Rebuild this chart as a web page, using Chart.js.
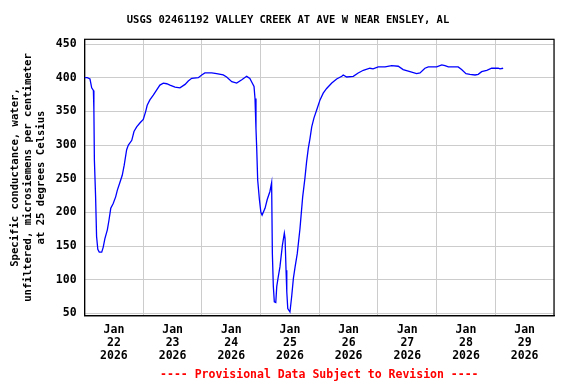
<!DOCTYPE html>
<html>
<head>
<meta charset="utf-8">
<script src="https://cdn.jsdelivr.net/npm/chart.js@4/dist/chart.umd.min.js"></script>
<style>
  html, body { margin: 0; padding: 0; background: #fff; }
</style>
</head>
<body>
<canvas id="myChart" width="576" height="384"></canvas>
<script>
const title = 'USGS 02461192 VALLEY CREEK AT AVE W NEAR ENSLEY, AL';
const yTitle = ['Specific conductance, water,', 'unfiltered, microsiemens per centimeter', 'at 25 degrees Celsius'];
const footer = '---- Provisional Data Subject to Revision ----';
const month = 'Jan';
const year = '2026';
const dayLabels = ['22', '23', '24', '25', '26', '27', '28', '29'];

// hours since Jan 22 00:00
const hours = [
  0, 1.1, 2.2, 2.9, 3.6, 3.8, 4.0, 4.5, 4.9, 5.4, 6.0, 7.0, 7.6, 8.3, 9.3, 10.0,
  10.7, 11.7, 12.7, 13.4, 14.5, 15.4, 16.2, 17.2, 17.9, 19.3, 20.2, 21.3, 22.7, 24.0,
  25.0, 25.6, 26.7, 28.1, 29.5, 30.8, 32.2, 33.6, 34.9, 37.0, 39.0, 41.1, 42.4, 43.8,
  46.5, 47.9, 49.2, 52.0, 54.0, 56.7, 58.1, 60.2, 62.2, 64.3, 66.3, 67.6, 68.3, 69.3,
  69.7, 70.1, 70.4, 70.8, 71.5, 72.1, 72.6, 73.8, 74.7, 75.8, 76.5, 76.8, 77.2, 77.6,
  78.2, 78.6, 79.2, 79.9, 80.9, 81.7, 82.0, 82.4, 82.7, 83.1, 84.0, 84.7, 85.4, 86.1,
  87.0, 88.1, 89.2, 90.1, 90.8, 91.5, 92.2, 92.9, 93.8, 95.2, 96.3, 97.6, 99.0, 101.1,
  103.1, 105.2, 105.8, 107.2, 109.9, 111.9, 114.0, 116.7, 118.0, 120.1, 122.9, 125.6,
  128.3, 130.3, 133.1, 135.8, 137.2, 139.2, 140.6, 144.0, 146.1, 147.4, 148.8, 152.8,
  154.2, 156.0, 157.6, 159.7, 161.0, 162.4, 164.5, 166.5, 169.2, 169.9, 171.2
];
const conductance = [
  400, 400, 398, 385, 381, 352, 278, 223, 164, 145, 141, 141, 148, 161, 174, 189,
  206, 213, 223, 233, 245, 255, 270, 293, 300, 307, 320, 327, 333, 338,
  350, 359, 367, 374, 382, 389, 392, 391, 389, 386, 385, 390, 395, 399,
  400, 404, 407, 407, 406, 404, 401, 394, 392, 397, 402, 399, 394, 387,
  369, 324, 295, 248, 219, 200, 196, 206, 219, 231, 244, 139, 90, 67,
  66, 90, 104, 119, 151, 169, 161, 114, 82, 57, 52, 75, 102, 119,
  139, 176, 223, 250, 275, 295, 310, 327, 340, 355, 367, 377, 384, 392,
  398, 402, 404, 401, 402, 407, 411, 414, 413, 416, 416, 418,
  417, 412, 409, 406, 407, 414, 416, 416, 419, 418, 416, 416,
  412, 406, 405, 404, 405, 409, 411, 414, 414, 413, 414
];

const frame = {
  id: 'frame',
  beforeDatasetsDraw(chart) {
    const {ctx, chartArea: a} = chart;
    ctx.save();
    ctx.strokeStyle = '#000';
    ctx.lineWidth = 1.2;
    ctx.strokeRect(a.left, a.top, a.right - a.left, a.bottom - a.top);
    ctx.restore();
  }
};

const mono = 'DejaVu Sans Mono';

new Chart(document.getElementById('myChart').getContext('2d'), {
  type: 'line',
  data: {
    datasets: [{
      data: hours.map((h, i) => ({x: h, y: conductance[i]})),
      borderColor: '#0000ff',
      borderWidth: 1.3,
      pointRadius: 0,
      tension: 0,
      fill: false
    }]
  },
  options: {
    responsive: false,
    animation: false,
    layout: { padding: 0 },
    plugins: {
      legend: { display: false },
      tooltip: { enabled: false },
      title: {
        display: true,
        text: title,
        color: '#000',
        font: { family: mono, size: 10.5, weight: 'bold', lineHeight: 1.2 },
        padding: { top: 14, bottom: 12.7 }
      }
    },
    scales: {
      x: {
        type: 'linear',
        min: 0,
        max: 192,
        afterFit: s => { s.height = 68.3; },
        grid: {
          drawTicks: false,
          tickLength: 0,
          color: c => (c.tick && c.tick.value % 24 === 0) ? '#cccccc' : 'rgba(0,0,0,0)',
          lineWidth: 1
        },
        border: { display: true, color: '#000', width: 1.2 },
        ticks: {
          stepSize: 12,
          autoSkip: false,
          includeBounds: false,
          maxRotation: 0,
          padding: 8,
          color: '#000',
          font: { family: mono, size: 11.5, weight: 'bold', lineHeight: '12.8px' },
          callback: v => (v % 24 === 12) ? [month, dayLabels[(v - 12) / 24], year] : ''
        },
        title: {
          display: true,
          text: footer,
          color: '#ff0000',
          font: { family: mono, size: 11.5, weight: 'bold', lineHeight: 1.1 },
          padding: { top: 0, bottom: 3 }
        }
      },
      y: {
        min: 46.5,
        max: 457,
        afterFit: s => { s.width = 84.6; },
        grid: { drawTicks: false, tickLength: 0, color: '#cccccc', lineWidth: 1 },
        border: { display: true, color: '#000', width: 1.2 },
        ticks: {
          stepSize: 50,
          includeBounds: false,
          padding: 8,
          color: '#000',
          font: { family: mono, size: 11.5, weight: 'bold' }
        },
        title: {
          display: true,
          text: yTitle,
          color: '#000',
          font: { family: mono, size: 10.6, weight: 'bold', lineHeight: '13px' },
          padding: { top: 8.5, bottom: 0 }
        }
      },
      // empty right-hand margin so the title centres on the whole canvas
      yRight: {
        position: 'right',
        min: 46.5,
        max: 457,
        afterFit: s => { s.width = 22; },
        grid: { display: false, drawOnChartArea: false },
        border: { display: false },
        ticks: { display: false }
      }
    }
  },
  plugins: [frame]
});
</script>
</body>
</html>
